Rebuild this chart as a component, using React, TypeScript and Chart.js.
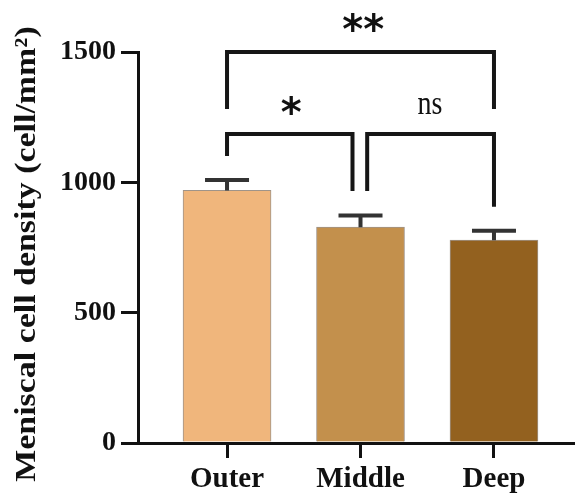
import { useEffect, useRef } from "react";
import { Chart, registerables } from "chart.js";
Chart.register(...registerables);

const categories = ["Outer", "Middle", "Deep"];
const means = [969, 828, 778];
const errors = [40, 45, 36];
const yTicks = [0, 500, 1000, 1500];
const barColors = ["#F0B67C", "#C3904C", "#93611F"];
const yTitle = "Meniscal cell density (cell/mm\u00B2)";

// significance brackets (x in category index, y in data units)
const bracketFrom = [0, 0, 1.05];
const bracketTo = [2, 0.94, 2];
const bracketTop = [1500, 1185, 1185];
const bracketLeftEnd = [1281, 1101, 967];
const bracketRightEnd = [1281, 967, 906];
const bracketLabels = ["**", "*", "ns"];
const labelX = [1.02, 0.48, 1.52];
const labelY = [1575, 1257, 1262];

const SERIF = "'Liberation Serif', serif";

function stretchedText(
  ctx: CanvasRenderingContext2D,
  text: string,
  x: number,
  y: number,
  font: string,
  sy: number,
  baseline: CanvasTextBaseline
) {
  ctx.save();
  ctx.translate(x, y);
  ctx.scale(1, sy);
  ctx.font = font;
  ctx.fillStyle = "#111";
  ctx.textAlign = "center";
  ctx.textBaseline = baseline;
  ctx.fillText(text, 0, 0);
  ctx.restore();
}

const overlayPlugin = {
  id: "overlay",
  afterDatasetsDraw(chart: any) {
    const ctx: CanvasRenderingContext2D = chart.ctx;
    const xs = chart.scales.x;
    const ys = chart.scales.y;
    ctx.save();
    ctx.strokeStyle = "#333";
    ctx.lineWidth = 4;
    means.forEach((m, i) => {
      const cx = xs.getPixelForValue(i);
      const yTop = ys.getPixelForValue(m + errors[i]);
      const yBar = ys.getPixelForValue(m);
      ctx.beginPath();
      ctx.moveTo(cx, yBar);
      ctx.lineTo(cx, yTop);
      ctx.moveTo(cx - 22, yTop);
      ctx.lineTo(cx + 22, yTop);
      ctx.stroke();
    });
    ctx.restore();
  },
  afterDraw(chart: any) {
    const ctx: CanvasRenderingContext2D = chart.ctx;
    const xs = chart.scales.x;
    const ys = chart.scales.y;
    ctx.save();
    ctx.strokeStyle = "#161616";
    ctx.lineWidth = 4;
    ctx.lineJoin = "miter";
    bracketFrom.forEach((f, i) => {
      const x1 = xs.getPixelForValue(f);
      const x2 = xs.getPixelForValue(bracketTo[i]);
      const yt = ys.getPixelForValue(bracketTop[i]);
      ctx.beginPath();
      ctx.moveTo(x1, ys.getPixelForValue(bracketLeftEnd[i]));
      ctx.lineTo(x1, yt);
      ctx.lineTo(x2, yt);
      ctx.lineTo(x2, ys.getPixelForValue(bracketRightEnd[i]));
      ctx.stroke();
    });
    bracketLabels.forEach((t, i) => {
      const x = xs.getPixelForValue(labelX[i]);
      const y = ys.getPixelForValue(labelY[i]);
      if (t === "ns") {
        stretchedText(ctx, t, x, y, `28px ${SERIF}`, 1.2, "alphabetic");
      } else {
        stretchedText(ctx, t, x, y, `bold 40px 'DejaVu Sans', sans-serif`, 1.0, "middle");
      }
    });
    // y axis title
    ctx.save();
    ctx.translate(35, 254);
    ctx.rotate(-Math.PI / 2);
    ctx.scale(1.13, 1);
    ctx.font = `bold 30px ${SERIF}`;
    ctx.fillStyle = "#111";
    ctx.textAlign = "center";
    ctx.textBaseline = "alphabetic";
    ctx.fillText(yTitle, 0, 0);
    ctx.restore();
    ctx.restore();
  },
};

export default function App() {
  const ref = useRef<HTMLCanvasElement>(null);
  useEffect(() => {
    document.body.style.margin = "0";
    const chart = new Chart(ref.current!, {
      type: "bar",
      data: {
        datasets: [
          {
            data: means.map((m, i) => ({ x: i, y: m })),
            backgroundColor: barColors,
            borderColor: "rgba(80,60,40,0.55)",
            borderWidth: 1,
            barThickness: 88,
          } as any,
        ],
      },
      options: {
        animation: false,
        responsive: false,
        devicePixelRatio: 1,
        layout: { padding: { top: 52, right: 0, left: 0, bottom: 0 } },
        plugins: { legend: { display: false }, tooltip: { enabled: false } },
        scales: {
          x: {
            type: "linear",
            offset: false,
            min: -0.667,
            max: 2.607,
            afterBuildTicks: (s: any) => {
              s.ticks = categories.map((_, i) => ({ value: i }));
            },
            afterFit: (s: any) => {
              s.height = 51;
            },
            grid: {
              offset: false,
              drawOnChartArea: false,
              drawTicks: true,
              tickLength: 15,
              lineWidth: 3,
              color: "#111",
            },
            border: { display: true, width: 3, color: "#111" },
            ticks: {
              padding: 4,
              color: "#111",
              font: { family: SERIF, size: 29, weight: "bold" },
              callback: (v: any) => categories[Math.round(Number(v))] ?? "",
              maxRotation: 0,
              autoSkip: false,
            },
          },
          y: {
            min: 0,
            max: 1500,
            afterBuildTicks: (s: any) => {
              s.ticks = yTicks.map((v) => ({ value: v }));
            },
            afterFit: (s: any) => {
              s.width = 138;
            },
            grid: {
              drawOnChartArea: false,
              drawTicks: true,
              tickLength: 17,
              lineWidth: 3,
              color: "#111",
            },
            border: { display: true, width: 3, color: "#111" },
            ticks: {
              padding: 5,
              color: "#111",
              font: { family: SERIF, size: 28, weight: "bold" },
              callback: (v: any) => String(v),
            },
          },
        },
      },
      plugins: [overlayPlugin],
    });
    return () => chart.destroy();
  }, []);
  return (
    <div style={{ width: 575, height: 494, background: "#fff" }}>
      <canvas ref={ref} width={575} height={494} />
    </div>
  );
}
